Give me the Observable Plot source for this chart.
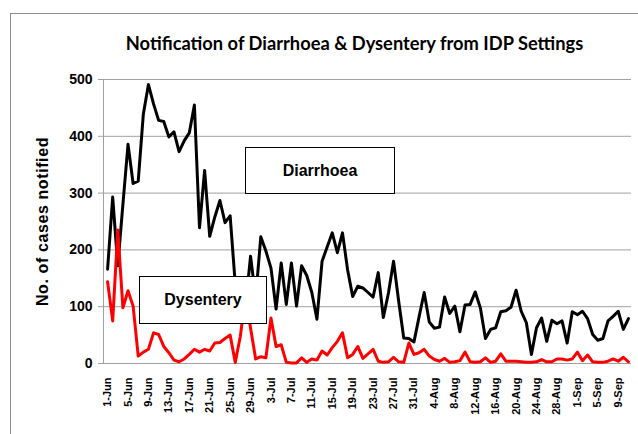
<!DOCTYPE html>
<html><head><meta charset="utf-8">
<script src="https://cdn.jsdelivr.net/npm/d3@7"></script>
<script src="https://cdn.jsdelivr.net/npm/@observablehq/plot@0.6"></script>
<style>
body{margin:0;background:#fff;}
#wrap{position:relative;width:638px;height:434px;overflow:hidden;font-family:"Liberation Sans",Arial,sans-serif;}
#frame{position:absolute;left:10px;top:13px;width:700px;height:500px;border-left:1px solid #8c8c8c;border-top:1px solid #8c8c8c;}
#chart{position:absolute;left:0;top:0;}
#chart svg{background:transparent;}
.box{position:absolute;background:#fff;border:1.5px solid #000;font-weight:bold;font-size:16px;display:flex;align-items:center;justify-content:center;box-sizing:border-box;color:#000;}
</style></head>
<body>
<div id="wrap">
  <div id="frame"></div>
  <div id="chart"></div>
  <div class="box" id="boxD" style="left:245px;top:147px;width:150px;height:47px;"></div>
  <div class="box" id="boxY" style="left:139px;top:276px;width:128px;height:48px;"></div>
</div>
<script>
const title = "Notification of Diarrhoea & Dysentery from IDP Settings";
const yLabel = "No. of cases notified";
const seriesNames = ["Diarrhoea", "Dysentery"];
const diarrhoea = [166,293,172,280,386,317,321,439,491,457,
  428,426,399,408,373,392,406,455,239,340,
  224,258,287,248,260,140,110,100,189,115,
  223,198,168,96,177,104,177,101,172,155,
  125,78,180,205,230,195,230,165,118,136,
  133,125,117,160,81,124,180,110,45,44,
  38,82,125,73,62,64,117,88,101,56,
  103,104,126,98,44,60,63,91,93,99,
  129,92,72,16,63,80,39,76,70,75,
  36,91,86,92,79,51,41,44,75,83,
  92,60,79];
const dysentery = [144,75,235,98,128,101,13,20,25,54,
  51,30,19,6,3,8,16,25,20,25,
  22,36,37,44,50,2,48,120,62,8,
  12,10,80,30,33,2,1,1,10,2,
  8,6,22,15,28,39,54,10,16,30,
  9,17,25,4,2,3,11,3,2,36,
  16,19,25,13,7,4,9,2,3,5,
  20,3,2,3,10,2,4,17,4,4,
  4,3,2,2,3,7,3,3,8,8,
  6,8,20,5,15,3,2,2,4,8,
  4,11,3];
const tickLabels = ["1-Jun","5-Jun","9-Jun","13-Jun","17-Jun","21-Jun","25-Jun","29-Jun",
  "3-Jul","7-Jul","11-Jul","15-Jul","19-Jul","23-Jul","27-Jul","31-Jul",
  "4-Aug","8-Aug","12-Aug","16-Aug","20-Aug","24-Aug","28-Aug","1-Sep","5-Sep","9-Sep"];
const tickStep = 4;
const yTicks = [0,100,200,300,400,500];

const days = diarrhoea.map((_, i) => i);
const xTicks = tickLabels.map((_, i) => i * tickStep);
const xDomain = [-0.8, 102.6];

document.getElementById("boxD").textContent = seriesNames[0];
document.getElementById("boxY").textContent = seriesNames[1];

const grid = "#a0a0a0";
const chart = Plot.plot({
  width: 638, height: 434,
  marginLeft: 103, marginRight: 7, marginTop: 79, marginBottom: 71,
  style: {fontFamily: "'Liberation Sans', Arial, sans-serif", background: "transparent", color: "#000"},
  x: {domain: xDomain},
  y: {domain: [0, 500]},
  marks: [
    Plot.gridY(yTicks, {stroke: grid, strokeOpacity: 1, strokeWidth: 1}),
    Plot.ruleX([xDomain[0]], {stroke: grid, strokeWidth: 1}),
    Plot.ruleY([0], {stroke: grid, strokeWidth: 1}),
    Plot.axisY(yTicks, {tickSize: 5, tickPadding: 6, fontSize: 14, fontWeight: "bold", stroke: grid, label: null}),
    Plot.axisX(xTicks, {tickSize: 0, tickPadding: 14, tickRotate: -90, fontSize: 11, fontWeight: "bold",
      tickFormat: d => tickLabels[d / tickStep], label: null}),
    Plot.line(days, {x: d => d, y: d => diarrhoea[d], stroke: "#000", strokeWidth: 3}),
    Plot.line(days, {x: d => d, y: d => dysentery[d], stroke: "#ff0000", strokeWidth: 3}),
    Plot.text([yLabel], {frameAnchor: "left", textAnchor: "middle", dx: -61, rotate: -90, fontSize: 16, fontWeight: "bold", fill: "#000"}),
    Plot.text([title], {frameAnchor: "top", dx: -13, dy: -43, fontSize: 18.3, fontWeight: "bold", fill: "#000", fontFamily: "Lato"})
  ]
});
d3.select(chart).selectAll("text").filter(function() { return this.textContent === yLabel; })
  .attr("letter-spacing", "0.6px");
document.getElementById("chart").appendChild(chart);
</script>
</body></html>
